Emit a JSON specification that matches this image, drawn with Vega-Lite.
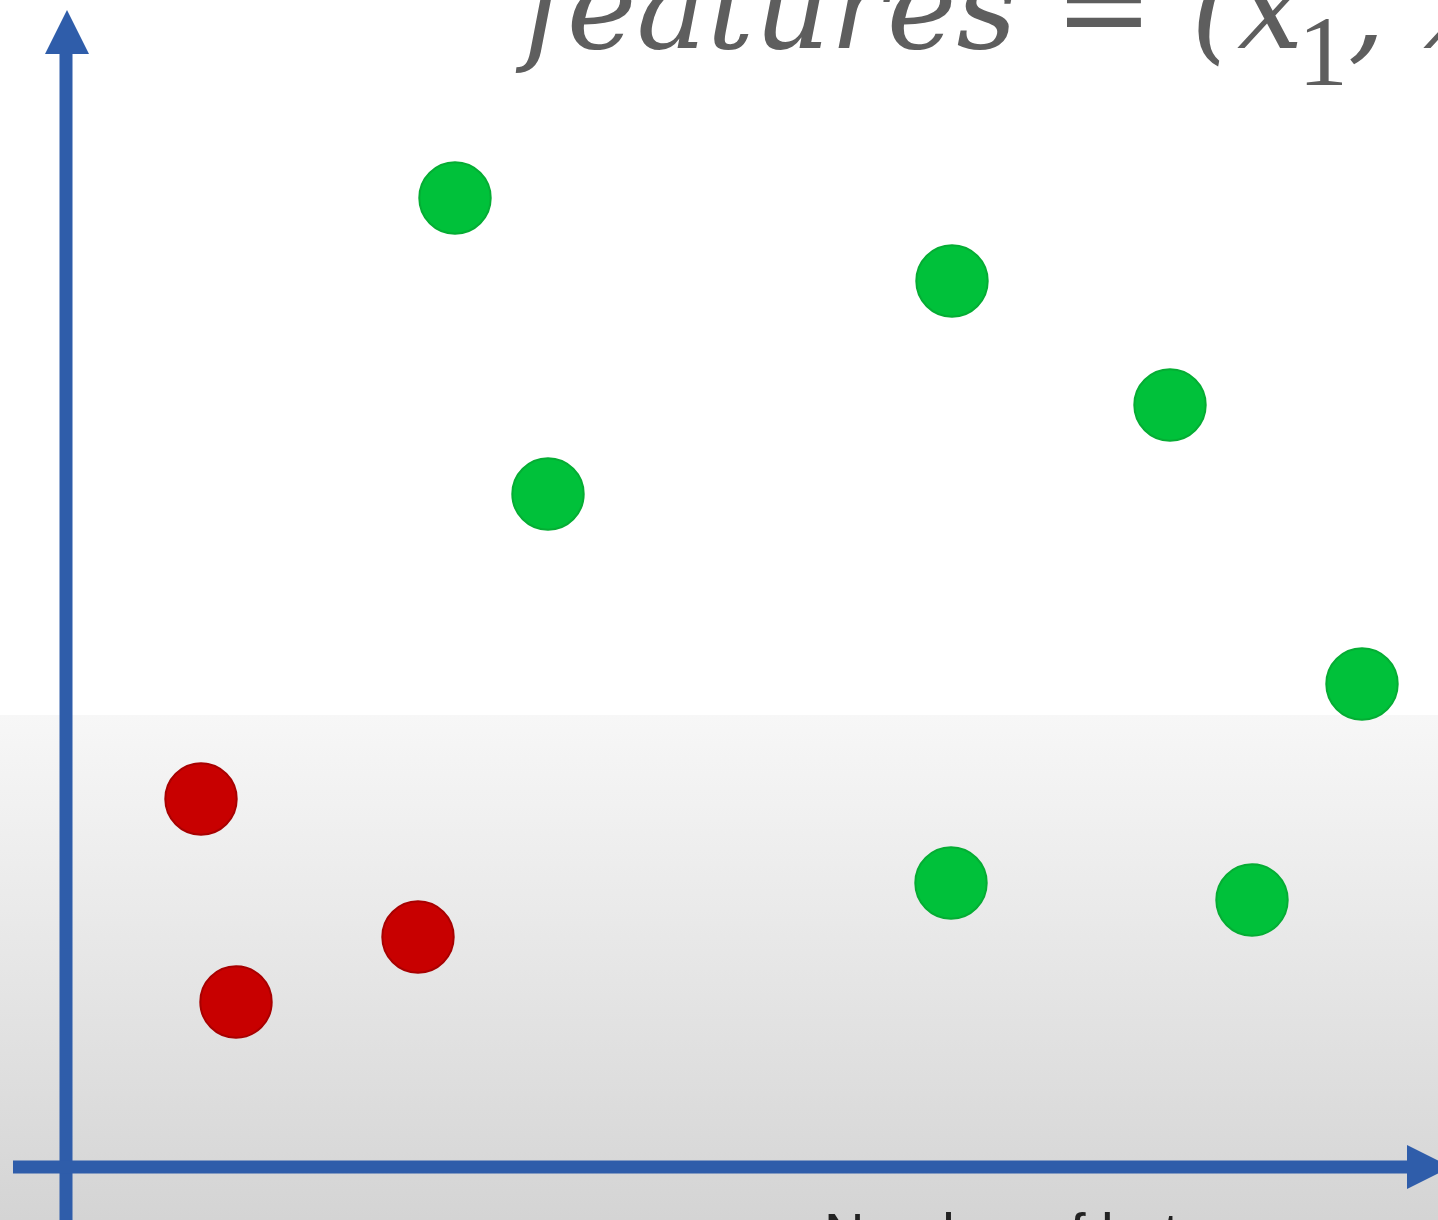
{
  "$schema": "https://vega.github.io/schema/vega-lite/v6.json",
  "width": 1438,
  "height": 1220,
  "autosize": {"type": "none"},
  "padding": 0,
  "background": "#ffffff",
  "config": {"view": {"stroke": null}},
  "encoding": {
    "x": {"field": "x", "type": "quantitative", "scale": {"domain": [-0.66, 13.72], "nice": false, "zero": false}, "axis": null},
    "y": {"field": "y", "type": "quantitative", "scale": {"domain": [-0.52, 11.68], "nice": false, "zero": false}, "axis": null}
  },
  "layer": [
    {
      "data": {"values": [{"x": -0.66, "x2": 13.72, "y": 4.53, "y2": -0.52}]},
      "mark": {
        "type": "rect",
        "fill": {
          "gradient": "linear",
          "x1": 0, "y1": 0, "x2": 0, "y2": 1,
          "stops": [
            {"offset": 0, "color": "#f7f7f7"},
            {"offset": 0.5, "color": "#e6e6e6"},
            {"offset": 1, "color": "#d4d4d4"}
          ]
        }
      },
      "encoding": {"x2": {"field": "x2"}, "y2": {"field": "y2"}}
    },
    {
      "data": {"values": [
        {"x": 0, "x2": 0, "y": -0.6, "y2": 11.2},
        {"x": -0.53, "x2": 13.5, "y": 0.01, "y2": 0.01}
      ]},
      "mark": {"type": "rule", "color": "#2f5daa", "strokeWidth": 13, "strokeCap": "butt"},
      "encoding": {"x2": {"field": "x2"}, "y2": {"field": "y2"}}
    },
    {
      "data": {"values": [
        {"x": 0.01, "y": 11.36, "dir": "up"},
        {"x": 13.63, "y": 0.01, "dir": "right"}
      ]},
      "mark": {"type": "point", "filled": true, "opacity": 1, "color": "#2f5daa", "size": 1936},
      "encoding": {
        "shape": {"field": "dir", "type": "nominal", "scale": {"domain": ["up", "right"], "range": ["M0,-1L1,1L-1,1Z", "M-1,-1L1,0L-1,1Z"]}, "legend": null}
      }
    },
    {
      "data": {"values": [
        {"x": 3.89, "y": 9.70, "class": "positive"},
        {"x": 8.86, "y": 8.87, "class": "positive"},
        {"x": 11.04, "y": 7.63, "class": "positive"},
        {"x": 4.82, "y": 6.74, "class": "positive"},
        {"x": 12.96, "y": 4.84, "class": "positive"},
        {"x": 8.85, "y": 2.85, "class": "positive"},
        {"x": 11.86, "y": 2.68, "class": "positive"},
        {"x": 1.35, "y": 3.69, "class": "negative"},
        {"x": 3.52, "y": 2.31, "class": "negative"},
        {"x": 1.70, "y": 1.66, "class": "negative"}
      ]},
      "mark": {"type": "circle", "size": 5100, "opacity": 1, "strokeWidth": 2},
      "encoding": {
        "fill": {"field": "class", "type": "nominal", "scale": {"domain": ["positive", "negative"], "range": ["#00c13a", "#c80000"]}, "legend": null},
        "stroke": {"field": "class", "type": "nominal", "scale": {"domain": ["positive", "negative"], "range": ["#05ad34", "#a80000"]}, "legend": null}
      }
    },
    {
      "data": {"values": [{"x": 4.57, "y": 11.20, "label": "features = (x"}]},
      "mark": {"type": "text", "font": "DejaVu Serif", "fontStyle": "italic", "fontSize": 118, "color": "#5e5e5e", "align": "left", "baseline": "alphabetic"},
      "encoding": {"text": {"field": "label"}}
    },
    {
      "data": {"values": [{"x": 12.32, "y": 10.83, "label": "1"}]},
      "mark": {"type": "text", "font": "Liberation Serif", "fontSize": 100, "color": "#5e5e5e", "align": "left", "baseline": "alphabetic"},
      "encoding": {"text": {"field": "label"}}
    },
    {
      "data": {"values": [{"x": 12.82, "y": 11.20, "label": ", x₂, …)"}]},
      "mark": {"type": "text", "font": "DejaVu Serif", "fontStyle": "italic", "fontSize": 118, "color": "#5e5e5e", "align": "left", "baseline": "alphabetic"},
      "encoding": {"text": {"field": "label"}}
    },
    {
      "data": {"values": [{"x": 7.58, "y": -0.84, "label": "Number of hats"}]},
      "mark": {"type": "text", "font": "Liberation Sans", "fontSize": 56, "color": "#222222", "align": "left", "baseline": "alphabetic"},
      "encoding": {"text": {"field": "label"}}
    }
  ]
}
